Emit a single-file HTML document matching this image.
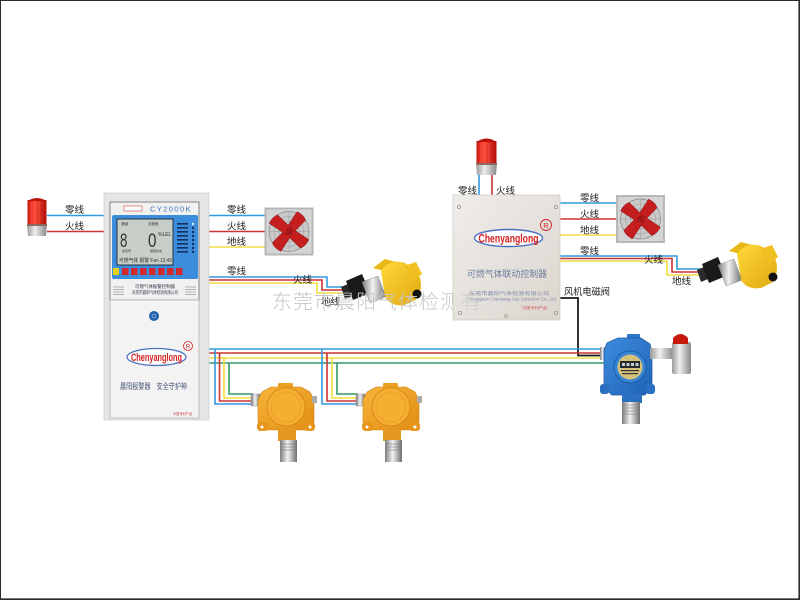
<!DOCTYPE html>
<html><head><meta charset="utf-8">
<style>
html,body{margin:0;padding:0;background:#fff;}
svg{display:block;}
text{font-family:"Liberation Sans","Noto Sans CJK SC",sans-serif;}
</style></head><body>
<svg xmlns="http://www.w3.org/2000/svg" width="800" height="600" viewBox="0 0 800 600">
<defs>
<linearGradient id="silver" x1="0" x2="1" y1="0" y2="0">
 <stop offset="0" stop-color="#7c7c7c"/><stop offset="0.45" stop-color="#f2f2f2"/><stop offset="1" stop-color="#6e6e6e"/>
</linearGradient>
<linearGradient id="casing2" x1="0" y1="0" x2="1" y2="1">
 <stop offset="0" stop-color="#efedea"/><stop offset="1" stop-color="#dbd5ce"/>
</linearGradient>
<linearGradient id="redBody" x1="0" x2="1">
 <stop offset="0" stop-color="#c8140c"/><stop offset="0.35" stop-color="#ff4a38"/><stop offset="1" stop-color="#b00e08"/>
</linearGradient>
<linearGradient id="grayBase" x1="0" x2="1">
 <stop offset="0" stop-color="#9a9a9a"/><stop offset="0.4" stop-color="#eeeeee"/><stop offset="1" stop-color="#888"/>
</linearGradient>
<linearGradient id="orangeG" x1="0" y1="0" x2="1" y2="1">
 <stop offset="0" stop-color="#f8b43a"/><stop offset="1" stop-color="#e08d12"/>
</linearGradient>
<linearGradient id="blueG" x1="0" y1="0" x2="1" y2="1">
 <stop offset="0" stop-color="#3d8ce0"/><stop offset="1" stop-color="#1e62b4"/>
</linearGradient>
<linearGradient id="yellowG" x1="0" y1="0" x2="1" y2="1">
 <stop offset="0" stop-color="#ffd83a"/><stop offset="1" stop-color="#e0a810"/>
</linearGradient>
</defs>

<!-- frame -->
<rect x="0.5" y="0.5" width="798.5" height="598.5" fill="#fff" stroke="#2b2b2b" stroke-width="1"/>
<line x1="799.2" y1="0" x2="799.2" y2="600" stroke="#2b2b2b" stroke-width="1.6"/>
<line x1="0" y1="599.2" x2="800" y2="599.2" stroke="#2b2b2b" stroke-width="1.6"/>

<!-- ============ WIRES ============ -->
<g fill="none" stroke-width="1.6">
 <line x1="47" y1="215.5" x2="105" y2="215.5" stroke="#3399dd"/>
 <line x1="47" y1="231.5" x2="105" y2="231.5" stroke="#cc3333"/>
 <line x1="208" y1="215.5" x2="266" y2="215.5" stroke="#3399dd"/>
 <line x1="208" y1="231.5" x2="266" y2="231.5" stroke="#cc3333"/>
 <line x1="208" y1="247" x2="266" y2="247" stroke="#f0dc40"/>
 <polyline points="208,277 327,277 327,287 349,287" stroke="#3399dd"/>
 <polyline points="208,280 322,280 322,290 349,290" stroke="#cc3333"/>
 <polyline points="208,283 317,283 317,293 347,293" stroke="#f0dc40"/>
 <line x1="479" y1="174" x2="479" y2="196" stroke="#3399dd"/>
 <line x1="492" y1="174" x2="492" y2="196" stroke="#cc3333"/>
 <line x1="559" y1="203" x2="617" y2="203" stroke="#3399dd"/>
 <line x1="559" y1="219" x2="617" y2="219" stroke="#cc3333"/>
 <line x1="559" y1="235" x2="617" y2="235" stroke="#f0dc40"/>
 <polyline points="559,256 677,256 677,269 704,269" stroke="#3399dd"/>
 <polyline points="559,258.5 672,258.5 672,272 704,272" stroke="#cc3333"/>
 <polyline points="559,261 667,261 667,275 701,275" stroke="#f0dc40"/>
 <polyline points="557,298 578,298 578,355.5 604,355.5" stroke="#1a1a1a" stroke-width="1.8"/>
 <line x1="207" y1="349" x2="604" y2="349" stroke="#3399dd"/>
 <line x1="207" y1="353" x2="604" y2="353" stroke="#cc3333"/>
 <line x1="207" y1="358" x2="604" y2="358" stroke="#f0dc40"/>
 <line x1="207" y1="363" x2="604" y2="363" stroke="#339966"/>
 <polyline points="215,349 215,404 253,404" stroke="#3399dd"/>
 <polyline points="219.5,353 219.5,401 253,401" stroke="#cc3333"/>
 <polyline points="224,358 224,398 253,398" stroke="#f0dc40"/>
 <polyline points="229,363 229,394 253,394" stroke="#339966"/>
 <polyline points="322,349 322,404 358,404" stroke="#3399dd"/>
 <polyline points="327,353 327,401 358,401" stroke="#cc3333"/>
 <polyline points="332,358 332,398 358,398" stroke="#f0dc40"/>
 <polyline points="337,363 337,394 358,394" stroke="#339966"/>
</g>

<!-- ============ LABELS ============ -->
<g font-size="9.5" fill="#222">
 <text x="65" y="213">零线</text>
 <text x="65" y="229.5">火线</text>
 <text x="227" y="213">零线</text>
 <text x="227" y="229.5">火线</text>
 <text x="227" y="245">地线</text>
 <text x="227" y="274.5">零线</text>
 <text x="293" y="283">火线</text>
 <text x="321" y="305">地线</text>
 <text x="458" y="194">零线</text>
 <text x="496" y="194">火线</text>
 <text x="580" y="201.5">零线</text>
 <text x="580" y="217.5">火线</text>
 <text x="580" y="233.5">地线</text>
 <text x="580" y="254.5">零线</text>
 <text x="644" y="263">火线</text>
 <text x="672" y="284.5">地线</text>
 <text x="564" y="295" textLength="46" lengthAdjust="spacingAndGlyphs">风机电磁阀</text>
</g>

<!-- ============ LEFT ALARM ============ -->
<g>
 <rect x="27.5" y="200" width="19" height="24" fill="url(#redBody)"/>
 <path d="M27.5,201 Q37,195 46.5,201 Z" fill="#b8140c"/>
 <g stroke="#ff8070" stroke-width="0.5" opacity="0.7"><line x1="31" y1="202" x2="31" y2="223"/><line x1="35" y1="202" x2="35" y2="223"/><line x1="39" y1="202" x2="39" y2="223"/></g>
 <path d="M27,224 L47,224 L46,236 L28,236 Z" fill="url(#grayBase)"/>
 <rect x="27" y="224" width="20" height="2" fill="#8a6a60"/>
</g>

<!-- ============ RIGHT ALARM ============ -->
<g>
 <rect x="476.5" y="141" width="20" height="23" fill="url(#redBody)"/>
 <path d="M476.5,142 Q486.5,135 496.5,142 Z" fill="#b8140c"/>
 <g stroke="#ff8070" stroke-width="0.5" opacity="0.7"><line x1="481" y1="143" x2="481" y2="163"/><line x1="485" y1="143" x2="485" y2="163"/><line x1="489" y1="143" x2="489" y2="163"/></g>
 <path d="M476,163 L497,163 L496,175 L477,175 Z" fill="url(#grayBase)"/>
 <rect x="476" y="163" width="21" height="2" fill="#8a6a60"/>
</g>

<!-- ============ FANS ============ -->
<g transform="translate(289,231.5)">
 <rect x="-24.5" y="-24" width="49" height="48" fill="#b9b9b9"/>
 <rect x="-23" y="-22.5" width="46" height="45" fill="#d4d4d4" stroke="#a5a5a5" stroke-width="0.5"/>
 <circle r="20" fill="#c9c9c9" stroke="#888" stroke-width="0.7"/>
 <circle r="15" fill="none" stroke="#999" stroke-width="0.5"/>
 <circle r="10" fill="none" stroke="#999" stroke-width="0.5"/>
 <path d="M-20,0 H20 M0,-20 V20" stroke="#999" stroke-width="0.5"/>
 <g fill="#c41e1e" stroke="#7a0c0c" stroke-width="0.4">
  <path d="M-1,-4 L19,-10 Q22,-3 20,2 L1,4 Z" transform="rotate(-40)"/>
  <path d="M-1,-4 L19,-10 Q22,-3 20,2 L1,4 Z" transform="rotate(50)"/>
  <path d="M-1,-4 L19,-10 Q22,-3 20,2 L1,4 Z" transform="rotate(140)"/>
  <path d="M-1,-4 L19,-10 Q22,-3 20,2 L1,4 Z" transform="rotate(230)"/>
 </g>
 <circle r="3.5" fill="#a01818"/>
</g>
<g transform="translate(640.5,219)">
 <rect x="-24.5" y="-24" width="49" height="48" fill="#b9b9b9"/>
 <rect x="-23" y="-22.5" width="46" height="45" fill="#d4d4d4" stroke="#a5a5a5" stroke-width="0.5"/>
 <circle r="20" fill="#c9c9c9" stroke="#888" stroke-width="0.7"/>
 <circle r="15" fill="none" stroke="#999" stroke-width="0.5"/>
 <circle r="10" fill="none" stroke="#999" stroke-width="0.5"/>
 <path d="M-20,0 H20 M0,-20 V20" stroke="#999" stroke-width="0.5"/>
 <g fill="#c41e1e" stroke="#7a0c0c" stroke-width="0.4">
  <path d="M-1,-4 L19,-10 Q22,-3 20,2 L1,4 Z" transform="rotate(-40)"/>
  <path d="M-1,-4 L19,-10 Q22,-3 20,2 L1,4 Z" transform="rotate(50)"/>
  <path d="M-1,-4 L19,-10 Q22,-3 20,2 L1,4 Z" transform="rotate(140)"/>
  <path d="M-1,-4 L19,-10 Q22,-3 20,2 L1,4 Z" transform="rotate(230)"/>
 </g>
 <circle r="3.5" fill="#a01818"/>
</g>

<!-- ============ VALVES ============ -->
<g>
 <path d="M341,287 L348,284 L352,296 L345,299 Z" fill="#2a2a2a"/>
 <path d="M346,281 L362,274 L370,293 L353,300 Z" fill="#1a1a1a"/>
 <path d="M362,282 L378,276 L386,297 L370,303 Z" fill="url(#silver)" stroke="#777" stroke-width="0.4"/>
 <path d="M373,268 L385,259 L396,262 L392,273 Z" fill="#e8b818"/>
 <path d="M381,271 Q390,258 405,263 L417,271 Q425,285 417,299 L405,305 Q391,307 385,297 Z" fill="url(#yellowG)"/>
 <path d="M404,266 L416,262 L422,274 L414,280 Z" fill="#f0c020"/>
 <circle cx="417" cy="294" r="4.5" fill="#111"/>
</g>
<g transform="translate(356,-17)">
 <path d="M341,287 L348,284 L352,296 L345,299 Z" fill="#2a2a2a"/>
 <path d="M346,281 L362,274 L370,293 L353,300 Z" fill="#1a1a1a"/>
 <path d="M362,282 L378,276 L386,297 L370,303 Z" fill="url(#silver)" stroke="#777" stroke-width="0.4"/>
 <path d="M373,268 L385,259 L396,262 L392,273 Z" fill="#e8b818"/>
 <path d="M381,271 Q390,258 405,263 L417,271 Q425,285 417,299 L405,305 Q391,307 385,297 Z" fill="url(#yellowG)"/>
 <path d="M404,266 L416,262 L422,274 L414,280 Z" fill="#f0c020"/>
 <circle cx="417" cy="294" r="4.5" fill="#111"/>
</g>

<!-- ============ WATERMARK ============ -->
<text x="272" y="308.5" font-size="20" letter-spacing="1" fill="#c6c6c6" font-weight="200" style="font-family:'Noto Sans CJK SC',sans-serif">东莞市晨阳气体检测有限公司</text>

<!-- ============ LEFT CONTROLLER ============ -->
<g>
 <rect x="104" y="193" width="105" height="227" fill="#e5e5e5" stroke="#cfcfcf" stroke-width="0.8"/>
 <rect x="110" y="202" width="89" height="98" fill="#f1f1f1" stroke="#6a6a6a" stroke-width="0.8"/>
 <rect x="124" y="206" width="18" height="5" fill="#fff" stroke="#c44" stroke-width="0.6"/>
 <text x="150" y="211.5" font-size="7.5" fill="#3a6fc0" letter-spacing="1.4">CY2000K</text>
 <rect x="112" y="215" width="86" height="64" rx="2" fill="#3c8ddc"/>
 <rect x="117" y="219" width="56" height="46" fill="#c9cec9" stroke="#24313f" stroke-width="1"/>
 <g fill="#333">
  <text x="121" y="225" font-size="3.5">通道</text>
  <text x="148" y="225" font-size="3.5">浓度值</text>
  <text x="120" y="247" font-size="19" transform="translate(120,247) scale(0.7,1) translate(-120,-247)">8</text>
  <text x="148" y="247" font-size="19" transform="translate(148,247) scale(0.8,1) translate(-148,-247)">0</text>
  <text x="158" y="236" font-size="5">%LEL</text>
  <text x="122" y="252" font-size="3">通道号</text>
  <text x="150" y="252" font-size="3">报警状态</text>
  <text x="119" y="262" font-size="5" textLength="53" lengthAdjust="spacingAndGlyphs">可燃气体 报警 Fan 13:45</text>
 </g>
 <g fill="#15305e">
  <rect x="177" y="223" width="11" height="1.6"/><rect x="177" y="227" width="11" height="1.6"/>
  <rect x="177" y="231" width="11" height="1.6"/><rect x="177" y="235" width="11" height="1.6"/>
  <rect x="177" y="239" width="11" height="1.6"/><rect x="177" y="243" width="11" height="1.6"/>
  <rect x="177" y="247" width="11" height="1.6"/><rect x="177" y="251" width="11" height="1.6"/>
  <circle cx="193" cy="224" r="1.2" fill="#d8ecff"/>
  <circle cx="193" cy="228" r="1.2"/><circle cx="193" cy="232" r="1.2"/><circle cx="193" cy="236" r="1.2"/>
  <circle cx="193" cy="240" r="1.2"/><circle cx="193" cy="244" r="1.2"/><circle cx="193" cy="248" r="1.2"/><circle cx="193" cy="252" r="1.2"/>
 </g>
 <rect x="113" y="268" width="6" height="7" fill="#e8d020"/>
 <g fill="#d22a2a">
  <rect x="122" y="268" width="6.5" height="7"/><rect x="131" y="268" width="6.5" height="7"/>
  <rect x="140" y="268" width="6.5" height="7"/><rect x="149" y="268" width="6.5" height="7"/>
  <rect x="158" y="268" width="6.5" height="7"/><rect x="167" y="268" width="6.5" height="7"/>
  <rect x="176" y="268" width="6.5" height="7"/>
 </g>
 <text x="155" y="288" font-size="4.5" text-anchor="middle" fill="#334" textLength="40" lengthAdjust="spacingAndGlyphs">可燃气体报警控制器</text>
 <text x="155" y="294" font-size="4.5" text-anchor="middle" fill="#334" textLength="46" lengthAdjust="spacingAndGlyphs">东莞市晨阳气体检测有限公司</text>
 <g stroke="#888" stroke-width="0.6">
  <line x1="113" y1="287" x2="124" y2="287"/><line x1="113" y1="289.5" x2="124" y2="289.5"/><line x1="113" y1="292" x2="124" y2="292"/><line x1="113" y1="294.5" x2="124" y2="294.5"/>
  <line x1="185" y1="287" x2="196" y2="287"/><line x1="185" y1="289.5" x2="196" y2="289.5"/><line x1="185" y1="292" x2="196" y2="292"/><line x1="185" y1="294.5" x2="196" y2="294.5"/>
 </g>
 <rect x="110" y="300" width="89" height="118" fill="#f3f3f3" stroke="#b5b5b5" stroke-width="0.8"/>
 <circle cx="154" cy="316" r="5" fill="#1f5fae"/>
 <circle cx="154" cy="316" r="2" fill="none" stroke="#cfe0f5" stroke-width="0.6"/>
 <ellipse cx="156.5" cy="357" rx="29.5" ry="8.5" fill="#fff" stroke="#4a70c0" stroke-width="1.3"/>
 <text x="156.5" y="361" font-size="11" font-weight="bold" fill="#d42020" text-anchor="middle" textLength="51" lengthAdjust="spacingAndGlyphs">Chenyanglong</text>
 <circle cx="188" cy="346" r="4.5" fill="none" stroke="#d42020" stroke-width="0.8"/>
 <text x="188" y="348.5" font-size="6" fill="#d42020" text-anchor="middle">R</text>
 <text x="120" y="389" font-size="8" fill="#4a5a7a" textLength="67" lengthAdjust="spacingAndGlyphs">晨阳报警器　安全守护神</text>
 <text x="173" y="415" font-size="3.5" fill="#d04040" textLength="19" lengthAdjust="spacingAndGlyphs">中国专利产品</text>
</g>

<!-- ============ RIGHT CONTROLLER ============ -->
<g>
 <rect x="453" y="195" width="107" height="125" fill="url(#casing2)" stroke="#d2cbc3" stroke-width="0.8"/>
 <g fill="none" stroke="#9a948e" stroke-width="0.7">
  <circle cx="459" cy="207" r="1.6"/><circle cx="556" cy="207" r="1.6"/>
  <circle cx="460" cy="313" r="1.6"/><circle cx="556" cy="313" r="1.6"/>
  <circle cx="506" cy="316" r="1.4"/>
 </g>
 <ellipse cx="508.5" cy="238" rx="34" ry="8.5" fill="#fff" stroke="#4a70c0" stroke-width="1.4"/>
 <text x="508.5" y="242.5" font-size="12" font-weight="bold" fill="#d42020" text-anchor="middle" textLength="60" lengthAdjust="spacingAndGlyphs">Chenyanglong</text>
 <circle cx="546" cy="225" r="5.5" fill="none" stroke="#d42020" stroke-width="0.9"/>
 <text x="546" y="228" font-size="7.5" fill="#d42020" text-anchor="middle">R</text>
 <text x="467" y="277" font-size="9" fill="#6f7f9f" textLength="80" lengthAdjust="spacingAndGlyphs">可燃气体联动控制器</text>
 <text x="469" y="295" font-size="4.5" fill="#7a8aa8" textLength="80" lengthAdjust="spacingAndGlyphs">东莞市晨阳气体检测有限公司</text>
 <text x="469" y="300.5" font-size="4.5" fill="#7a8aa8" textLength="88" lengthAdjust="spacingAndGlyphs">Dongguan Chenyang Gas Detection Co., Ltd.</text>
 <text x="522" y="309" font-size="3.5" fill="#d05050" textLength="25" lengthAdjust="spacingAndGlyphs">中国专利产品</text>
</g>
<text x="461" y="308.5" font-size="20" fill="#c6c6c6" font-weight="200" opacity="0.8" style="font-family:'Noto Sans CJK SC',sans-serif">有</text>

<!-- ============ ORANGE DETECTORS ============ -->
<g>
 <rect x="251" y="394" width="9" height="12" fill="url(#silver)" stroke="#888" stroke-width="0.4"/>
 <rect x="278" y="383" width="15" height="6" rx="1" fill="#eea020"/>
 <path d="M262,392 L271,387 L301,387 L310,392 L314,400 L314,422 L308,430 L264,430 L258,422 L258,400 Z" fill="url(#orangeG)" stroke="#c88010" stroke-width="0.6"/>
 <rect x="312" y="396" width="5" height="7" fill="#aaa"/>
 <rect x="257" y="422" width="11" height="9" rx="3.5" fill="#e8961a"/>
 <rect x="304" y="422" width="11" height="9" rx="3.5" fill="#e8961a"/>
 <circle cx="262" cy="427" r="1.5" fill="#fff"/><circle cx="310" cy="427" r="1.5" fill="#fff"/>
 <circle cx="286" cy="407" r="19" fill="#f6ae32" stroke="#cf8716" stroke-width="0.8"/>
 <circle cx="286" cy="407" r="15" fill="none" stroke="#e49a22" stroke-width="0.6"/>
 <rect x="278" y="429" width="18" height="12" fill="#e39820"/>
 <rect x="280" y="440" width="17" height="22" fill="url(#silver)"/>
 <g stroke="#777" stroke-width="0.5"><line x1="280" y1="444" x2="297" y2="444"/><line x1="280" y1="447" x2="297" y2="447"/><line x1="280" y1="450" x2="297" y2="450"/></g>
</g>
<g transform="translate(105,0)">
 <rect x="251" y="394" width="9" height="12" fill="url(#silver)" stroke="#888" stroke-width="0.4"/>
 <rect x="278" y="383" width="15" height="6" rx="1" fill="#eea020"/>
 <path d="M262,392 L271,387 L301,387 L310,392 L314,400 L314,422 L308,430 L264,430 L258,422 L258,400 Z" fill="url(#orangeG)" stroke="#c88010" stroke-width="0.6"/>
 <rect x="312" y="396" width="5" height="7" fill="#aaa"/>
 <rect x="257" y="422" width="11" height="9" rx="3.5" fill="#e8961a"/>
 <rect x="304" y="422" width="11" height="9" rx="3.5" fill="#e8961a"/>
 <circle cx="262" cy="427" r="1.5" fill="#fff"/><circle cx="310" cy="427" r="1.5" fill="#fff"/>
 <circle cx="286" cy="407" r="19" fill="#f6ae32" stroke="#cf8716" stroke-width="0.8"/>
 <circle cx="286" cy="407" r="15" fill="none" stroke="#e49a22" stroke-width="0.6"/>
 <rect x="278" y="429" width="18" height="12" fill="#e39820"/>
 <rect x="280" y="440" width="17" height="22" fill="url(#silver)"/>
 <g stroke="#777" stroke-width="0.5"><line x1="280" y1="444" x2="297" y2="444"/><line x1="280" y1="447" x2="297" y2="447"/><line x1="280" y1="450" x2="297" y2="450"/></g>
</g>

<!-- ============ BLUE DETECTOR ============ -->
<g>
 <rect x="600" y="347" width="6" height="13" fill="url(#silver)"/>
 <rect x="627" y="334" width="13" height="7" rx="1" fill="#2f78cc"/>
 <path d="M607,343 L618,338 L641,338 L650,344 L652,352 L652,386 L645,395 L612,395 L604,388 L604,350 Z" fill="url(#blueG)" stroke="#1a559a" stroke-width="0.7"/>
 <rect x="600" y="384" width="9" height="10" rx="3" fill="#2a6fc0"/>
 <rect x="646" y="384" width="9" height="10" rx="3" fill="#2a6fc0"/>
 <rect x="650" y="348" width="24" height="11" fill="url(#grayBase)"/>
 <rect x="672" y="342" width="19" height="32" rx="2" fill="url(#grayBase)"/>
 <path d="M673,344 L673,338 Q680.5,330 688,338 L688,344 Z" fill="#c8180e"/>
 <circle cx="630" cy="367" r="16" fill="#3584d6" stroke="#1a559a" stroke-width="0.8"/>
 <circle cx="630" cy="367" r="12.5" fill="#d6c27c"/>
 <rect x="620" y="361" width="20" height="7" fill="#222a30"/>
 <g fill="#ccc"><rect x="622" y="363" width="3" height="3"/><rect x="626.5" y="363" width="3" height="3"/><rect x="631" y="363" width="3" height="3"/><rect x="635.5" y="363" width="3" height="3"/></g>
 <rect x="621" y="370" width="18" height="1.2" fill="#333"/>
 <rect x="622" y="373" width="16" height="1.2" fill="#333"/>
 <rect x="622" y="394" width="20" height="9" fill="#2a6fc0"/>
 <rect x="622" y="402" width="18" height="22" fill="url(#silver)"/>
 <g stroke="#777" stroke-width="0.5"><line x1="622" y1="405" x2="640" y2="405"/><line x1="622" y1="408" x2="640" y2="408"/><line x1="622" y1="411" x2="640" y2="411"/><line x1="622" y1="414" x2="640" y2="414"/></g>
</g>
</svg>
</body></html>
